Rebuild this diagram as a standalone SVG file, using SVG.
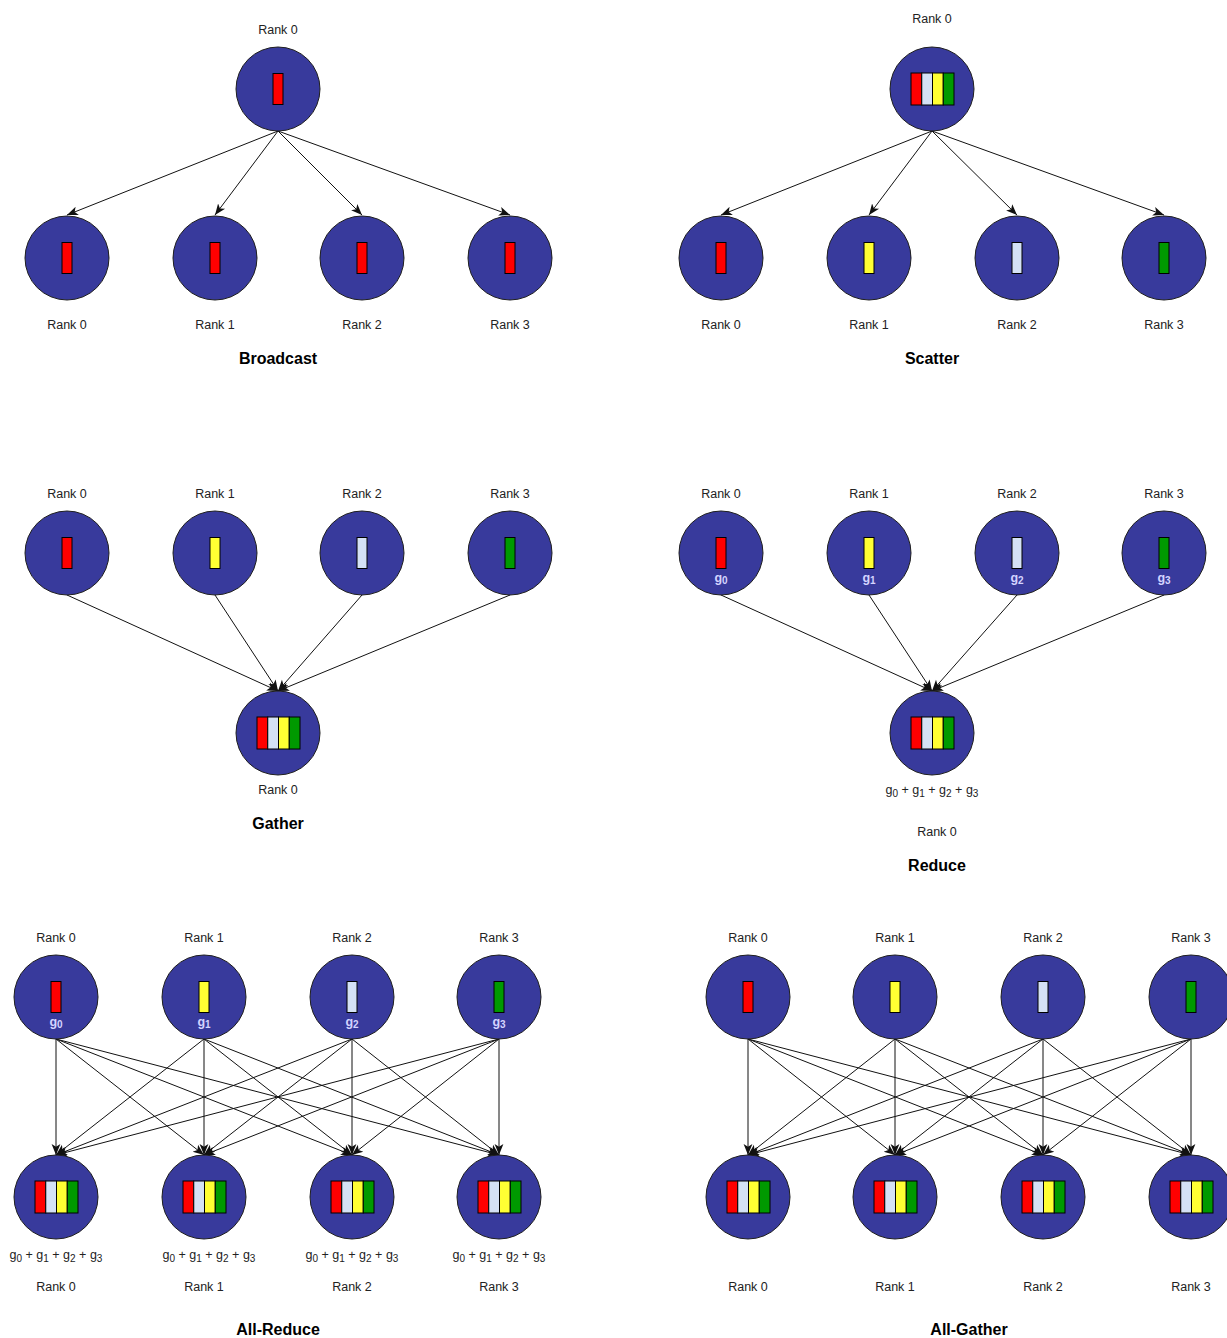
<svg xmlns="http://www.w3.org/2000/svg" xmlns:xlink="http://www.w3.org/1999/xlink" width="1227" height="1338" viewBox="0 0 1227 1338">
  <style>
    .rank { fill: #383a9c; stroke: #1e1e1e; stroke-width: 1; }
    .lbl { font-family: "Liberation Sans", Arial, sans-serif; font-size: 12.5px; fill: #222; text-anchor: middle; }
    .title { font-family: "Liberation Sans", Arial, sans-serif; font-size: 16px; font-weight: bold; fill: #000; text-anchor: middle; }
    .gl { font-family: "Liberation Sans", Arial, sans-serif; font-size: 12.5px; font-weight: bold; fill: #d4d4ff; text-anchor: middle; }
    .sub { font-size: 10px; }
    .blk { stroke: #000; stroke-width: 1; }
    .red { fill: #ff0000; }
    .yel { fill: #ffff33; }
    .blu { fill: #d4e1f5; }
    .grn { fill: #009900; }
    .edge { stroke: #111; stroke-width: 1; fill: none; marker-end: url(#arrow); }
  </style>
  <defs>
    <marker id="arrow" viewBox="0 0 10 10" refX="10" refY="5" markerWidth="11" markerHeight="11" markerUnits="userSpaceOnUse" orient="auto">
      <path d="M0,1 L10,5 L0,9 L2.5,5 z" fill="#111"/>
    </marker>
    <!-- four-slot buffer: red, light blue, yellow, green -->
    <g id="stack">
      <rect class="blk red" x="-21.5" y="-16" width="10.75" height="32"/>
      <rect class="blk blu" x="-10.75" y="-16" width="10.75" height="32"/>
      <rect class="blk yel" x="0" y="-16" width="10.75" height="32"/>
      <rect class="blk grn" x="10.75" y="-16" width="10.75" height="32"/>
    </g>
    <rect id="b-red" class="blk red" x="-5" y="-15.5" width="10" height="31"/>
    <rect id="b-yel" class="blk yel" x="-5" y="-15.5" width="10" height="31"/>
    <rect id="b-blu" class="blk blu" x="-5" y="-15.5" width="10" height="31"/>
    <rect id="b-grn" class="blk grn" x="-5" y="-15.5" width="10" height="31"/>
  </defs>

  <rect width="1227" height="1338" fill="#ffffff"/>

  <!-- connectors -->
  <g id="connectors">
    <g id="broadcast-edges">
      <line class="edge" x1="278" y1="131" x2="67" y2="215"/>
      <line class="edge" x1="278" y1="131" x2="215" y2="215"/>
      <line class="edge" x1="278" y1="131" x2="362" y2="215"/>
      <line class="edge" x1="278" y1="131" x2="510" y2="215"/>
    </g>
    <g id="scatter-edges">
      <line class="edge" x1="932" y1="131" x2="721" y2="215"/>
      <line class="edge" x1="932" y1="131" x2="869" y2="215"/>
      <line class="edge" x1="932" y1="131" x2="1017" y2="215"/>
      <line class="edge" x1="932" y1="131" x2="1164" y2="215"/>
    </g>
    <g id="gather-edges">
      <line class="edge" x1="67" y1="595" x2="278" y2="691"/>
      <line class="edge" x1="215" y1="595" x2="278" y2="691"/>
      <line class="edge" x1="362" y1="595" x2="278" y2="691"/>
      <line class="edge" x1="510" y1="595" x2="278" y2="691"/>
    </g>
    <g id="reduce-edges">
      <line class="edge" x1="721" y1="595" x2="932" y2="691"/>
      <line class="edge" x1="869" y1="595" x2="932" y2="691"/>
      <line class="edge" x1="1017" y1="595" x2="932" y2="691"/>
      <line class="edge" x1="1164" y1="595" x2="932" y2="691"/>
    </g>
    <g id="allreduce-edges">
      <line class="edge" x1="56" y1="1039" x2="56" y2="1155"/>
      <line class="edge" x1="56" y1="1039" x2="204" y2="1155"/>
      <line class="edge" x1="56" y1="1039" x2="352" y2="1155"/>
      <line class="edge" x1="56" y1="1039" x2="499" y2="1155"/>
      <line class="edge" x1="204" y1="1039" x2="56" y2="1155"/>
      <line class="edge" x1="204" y1="1039" x2="204" y2="1155"/>
      <line class="edge" x1="204" y1="1039" x2="352" y2="1155"/>
      <line class="edge" x1="204" y1="1039" x2="499" y2="1155"/>
      <line class="edge" x1="352" y1="1039" x2="56" y2="1155"/>
      <line class="edge" x1="352" y1="1039" x2="204" y2="1155"/>
      <line class="edge" x1="352" y1="1039" x2="352" y2="1155"/>
      <line class="edge" x1="352" y1="1039" x2="499" y2="1155"/>
      <line class="edge" x1="499" y1="1039" x2="56" y2="1155"/>
      <line class="edge" x1="499" y1="1039" x2="204" y2="1155"/>
      <line class="edge" x1="499" y1="1039" x2="352" y2="1155"/>
      <line class="edge" x1="499" y1="1039" x2="499" y2="1155"/>
    </g>
    <g id="allgather-edges">
      <line class="edge" x1="748" y1="1039" x2="748" y2="1155"/>
      <line class="edge" x1="748" y1="1039" x2="895" y2="1155"/>
      <line class="edge" x1="748" y1="1039" x2="1043" y2="1155"/>
      <line class="edge" x1="748" y1="1039" x2="1191" y2="1155"/>
      <line class="edge" x1="895" y1="1039" x2="748" y2="1155"/>
      <line class="edge" x1="895" y1="1039" x2="895" y2="1155"/>
      <line class="edge" x1="895" y1="1039" x2="1043" y2="1155"/>
      <line class="edge" x1="895" y1="1039" x2="1191" y2="1155"/>
      <line class="edge" x1="1043" y1="1039" x2="748" y2="1155"/>
      <line class="edge" x1="1043" y1="1039" x2="895" y2="1155"/>
      <line class="edge" x1="1043" y1="1039" x2="1043" y2="1155"/>
      <line class="edge" x1="1043" y1="1039" x2="1191" y2="1155"/>
      <line class="edge" x1="1191" y1="1039" x2="748" y2="1155"/>
      <line class="edge" x1="1191" y1="1039" x2="895" y2="1155"/>
      <line class="edge" x1="1191" y1="1039" x2="1043" y2="1155"/>
      <line class="edge" x1="1191" y1="1039" x2="1191" y2="1155"/>
    </g>
  </g>

  <!-- Broadcast -->
  <g id="broadcast">
    <g id="bc-root">
      <text class="lbl" x="278" y="34">Rank 0</text>
      <circle class="rank" cx="278" cy="89" r="42"/>
      <use xlink:href="#b-red" x="278" y="89"/>
    </g>
    <g id="bc-r0"><circle class="rank" cx="67" cy="258" r="42"/><use xlink:href="#b-red" x="67" y="258"/><text class="lbl" x="67" y="329">Rank 0</text></g>
    <g id="bc-r1"><circle class="rank" cx="215" cy="258" r="42"/><use xlink:href="#b-red" x="215" y="258"/><text class="lbl" x="215" y="329">Rank 1</text></g>
    <g id="bc-r2"><circle class="rank" cx="362" cy="258" r="42"/><use xlink:href="#b-red" x="362" y="258"/><text class="lbl" x="362" y="329">Rank 2</text></g>
    <g id="bc-r3"><circle class="rank" cx="510" cy="258" r="42"/><use xlink:href="#b-red" x="510" y="258"/><text class="lbl" x="510" y="329">Rank 3</text></g>
    <text class="title" x="278" y="364">Broadcast</text>
  </g>

  <!-- Scatter -->
  <g id="scatter">
    <g id="sc-root">
      <text class="lbl" x="932" y="23">Rank 0</text>
      <circle class="rank" cx="932" cy="89" r="42"/>
      <use xlink:href="#stack" x="932.5" y="89"/>
    </g>
    <g id="sc-r0"><circle class="rank" cx="721" cy="258" r="42"/><use xlink:href="#b-red" x="721" y="258"/><text class="lbl" x="721" y="329">Rank 0</text></g>
    <g id="sc-r1"><circle class="rank" cx="869" cy="258" r="42"/><use xlink:href="#b-yel" x="869" y="258"/><text class="lbl" x="869" y="329">Rank 1</text></g>
    <g id="sc-r2"><circle class="rank" cx="1017" cy="258" r="42"/><use xlink:href="#b-blu" x="1017" y="258"/><text class="lbl" x="1017" y="329">Rank 2</text></g>
    <g id="sc-r3"><circle class="rank" cx="1164" cy="258" r="42"/><use xlink:href="#b-grn" x="1164" y="258"/><text class="lbl" x="1164" y="329">Rank 3</text></g>
    <text class="title" x="932" y="364">Scatter</text>
  </g>

  <!-- Gather -->
  <g id="gather">
    <g id="ga-r0"><text class="lbl" x="67" y="498">Rank 0</text><circle class="rank" cx="67" cy="553" r="42"/><use xlink:href="#b-red" x="67" y="553"/></g>
    <g id="ga-r1"><text class="lbl" x="215" y="498">Rank 1</text><circle class="rank" cx="215" cy="553" r="42"/><use xlink:href="#b-yel" x="215" y="553"/></g>
    <g id="ga-r2"><text class="lbl" x="362" y="498">Rank 2</text><circle class="rank" cx="362" cy="553" r="42"/><use xlink:href="#b-blu" x="362" y="553"/></g>
    <g id="ga-r3"><text class="lbl" x="510" y="498">Rank 3</text><circle class="rank" cx="510" cy="553" r="42"/><use xlink:href="#b-grn" x="510" y="553"/></g>
    <g id="ga-root">
      <circle class="rank" cx="278" cy="733" r="42"/>
      <use xlink:href="#stack" x="278.5" y="733"/>
      <text class="lbl" x="278" y="794">Rank 0</text>
    </g>
    <text class="title" x="278" y="829">Gather</text>
  </g>

  <!-- Reduce -->
  <g id="reduce">
    <g id="re-r0"><text class="lbl" x="721" y="498">Rank 0</text><circle class="rank" cx="721" cy="553" r="42"/><use xlink:href="#b-red" x="721" y="553"/><text class="gl" x="721" y="582">g<tspan class="sub" dy="2">0</tspan></text></g>
    <g id="re-r1"><text class="lbl" x="869" y="498">Rank 1</text><circle class="rank" cx="869" cy="553" r="42"/><use xlink:href="#b-yel" x="869" y="553"/><text class="gl" x="869" y="582">g<tspan class="sub" dy="2">1</tspan></text></g>
    <g id="re-r2"><text class="lbl" x="1017" y="498">Rank 2</text><circle class="rank" cx="1017" cy="553" r="42"/><use xlink:href="#b-blu" x="1017" y="553"/><text class="gl" x="1017" y="582">g<tspan class="sub" dy="2">2</tspan></text></g>
    <g id="re-r3"><text class="lbl" x="1164" y="498">Rank 3</text><circle class="rank" cx="1164" cy="553" r="42"/><use xlink:href="#b-grn" x="1164" y="553"/><text class="gl" x="1164" y="582">g<tspan class="sub" dy="2">3</tspan></text></g>
    <g id="re-root">
      <circle class="rank" cx="932" cy="733" r="42"/>
      <use xlink:href="#stack" x="932.5" y="733"/>
      <text class="lbl" x="932" y="794">g<tspan class="sub" dy="3">0</tspan><tspan dy="-3"> + g</tspan><tspan class="sub" dy="3">1</tspan><tspan dy="-3"> + g</tspan><tspan class="sub" dy="3">2</tspan><tspan dy="-3"> + g</tspan><tspan class="sub" dy="3">3</tspan></text>
      <text class="lbl" x="937" y="836">Rank 0</text>
    </g>
    <text class="title" x="937" y="871">Reduce</text>
  </g>

  <!-- All-Reduce -->
  <g id="allreduce">
    <g id="ar-src0"><text class="lbl" x="56" y="942">Rank 0</text><circle class="rank" cx="56" cy="997" r="42"/><use xlink:href="#b-red" x="56" y="997"/><text class="gl" x="56" y="1026">g<tspan class="sub" dy="2">0</tspan></text></g>
    <g id="ar-src1"><text class="lbl" x="204" y="942">Rank 1</text><circle class="rank" cx="204" cy="997" r="42"/><use xlink:href="#b-yel" x="204" y="997"/><text class="gl" x="204" y="1026">g<tspan class="sub" dy="2">1</tspan></text></g>
    <g id="ar-src2"><text class="lbl" x="352" y="942">Rank 2</text><circle class="rank" cx="352" cy="997" r="42"/><use xlink:href="#b-blu" x="352" y="997"/><text class="gl" x="352" y="1026">g<tspan class="sub" dy="2">2</tspan></text></g>
    <g id="ar-src3"><text class="lbl" x="499" y="942">Rank 3</text><circle class="rank" cx="499" cy="997" r="42"/><use xlink:href="#b-grn" x="499" y="997"/><text class="gl" x="499" y="1026">g<tspan class="sub" dy="2">3</tspan></text></g>

    <g id="ar-dst0"><circle class="rank" cx="56" cy="1197" r="42"/><use xlink:href="#stack" x="56.5" y="1197"/>
      <text class="lbl" x="56" y="1259">g<tspan class="sub" dy="3">0</tspan><tspan dy="-3"> + g</tspan><tspan class="sub" dy="3">1</tspan><tspan dy="-3"> + g</tspan><tspan class="sub" dy="3">2</tspan><tspan dy="-3"> + g</tspan><tspan class="sub" dy="3">3</tspan></text>
      <text class="lbl" x="56" y="1291">Rank 0</text></g>
    <g id="ar-dst1"><circle class="rank" cx="204" cy="1197" r="42"/><use xlink:href="#stack" x="204.5" y="1197"/>
      <text class="lbl" x="209" y="1259">g<tspan class="sub" dy="3">0</tspan><tspan dy="-3"> + g</tspan><tspan class="sub" dy="3">1</tspan><tspan dy="-3"> + g</tspan><tspan class="sub" dy="3">2</tspan><tspan dy="-3"> + g</tspan><tspan class="sub" dy="3">3</tspan></text>
      <text class="lbl" x="204" y="1291">Rank 1</text></g>
    <g id="ar-dst2"><circle class="rank" cx="352" cy="1197" r="42"/><use xlink:href="#stack" x="352.5" y="1197"/>
      <text class="lbl" x="352" y="1259">g<tspan class="sub" dy="3">0</tspan><tspan dy="-3"> + g</tspan><tspan class="sub" dy="3">1</tspan><tspan dy="-3"> + g</tspan><tspan class="sub" dy="3">2</tspan><tspan dy="-3"> + g</tspan><tspan class="sub" dy="3">3</tspan></text>
      <text class="lbl" x="352" y="1291">Rank 2</text></g>
    <g id="ar-dst3"><circle class="rank" cx="499" cy="1197" r="42"/><use xlink:href="#stack" x="499.5" y="1197"/>
      <text class="lbl" x="499" y="1259">g<tspan class="sub" dy="3">0</tspan><tspan dy="-3"> + g</tspan><tspan class="sub" dy="3">1</tspan><tspan dy="-3"> + g</tspan><tspan class="sub" dy="3">2</tspan><tspan dy="-3"> + g</tspan><tspan class="sub" dy="3">3</tspan></text>
      <text class="lbl" x="499" y="1291">Rank 3</text></g>
    <text class="title" x="278" y="1335">All-Reduce</text>
  </g>

  <!-- All-Gather -->
  <g id="allgather">
    <g id="ag-src0"><text class="lbl" x="748" y="942">Rank 0</text><circle class="rank" cx="748" cy="997" r="42"/><use xlink:href="#b-red" x="748" y="997"/></g>
    <g id="ag-src1"><text class="lbl" x="895" y="942">Rank 1</text><circle class="rank" cx="895" cy="997" r="42"/><use xlink:href="#b-yel" x="895" y="997"/></g>
    <g id="ag-src2"><text class="lbl" x="1043" y="942">Rank 2</text><circle class="rank" cx="1043" cy="997" r="42"/><use xlink:href="#b-blu" x="1043" y="997"/></g>
    <g id="ag-src3"><text class="lbl" x="1191" y="942">Rank 3</text><circle class="rank" cx="1191" cy="997" r="42"/><use xlink:href="#b-grn" x="1191" y="997"/></g>

    <g id="ag-dst0"><circle class="rank" cx="748" cy="1197" r="42"/><use xlink:href="#stack" x="748.5" y="1197"/><text class="lbl" x="748" y="1291">Rank 0</text></g>
    <g id="ag-dst1"><circle class="rank" cx="895" cy="1197" r="42"/><use xlink:href="#stack" x="895.5" y="1197"/><text class="lbl" x="895" y="1291">Rank 1</text></g>
    <g id="ag-dst2"><circle class="rank" cx="1043" cy="1197" r="42"/><use xlink:href="#stack" x="1043.5" y="1197"/><text class="lbl" x="1043" y="1291">Rank 2</text></g>
    <g id="ag-dst3"><circle class="rank" cx="1191" cy="1197" r="42"/><use xlink:href="#stack" x="1191.5" y="1197"/><text class="lbl" x="1191" y="1291">Rank 3</text></g>
    <text class="title" x="969" y="1335">All-Gather</text>
  </g>
</svg>
